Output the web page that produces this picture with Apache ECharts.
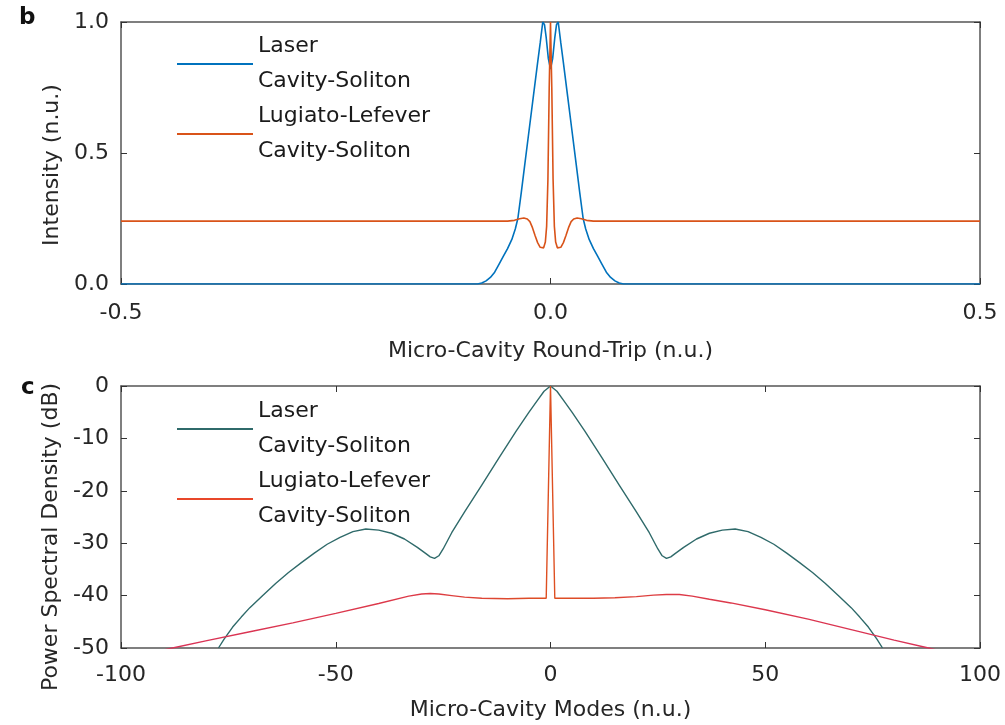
<!DOCTYPE html>
<html>
<head>
<meta charset="utf-8">
<script src="https://cdn.jsdelivr.net/npm/echarts@6/dist/echarts.min.js"></script>
<style>
html,body{margin:0;padding:0;background:#fff;}
#chart{width:1005px;height:725px;}
</style>
</head>
<body>
<div id="chart"></div>
<script>
// ---- Panel b: intensity vs round-trip ----
const roundTripTicks = [-0.5, 0.0, 0.5];
const intensityTicks = [0.0, 0.5, 1.0];
const laserCS_x = [-0.5, -0.085, -0.08, -0.075, -0.07, -0.065, -0.06, -0.055, -0.05, -0.045, -0.041, -0.038, -0.034, -0.03, -0.025, -0.02, -0.015, -0.012, -0.009, -0.007, -0.005, -0.0025, 0,
  0.0025, 0.005, 0.007, 0.009, 0.012, 0.015, 0.02, 0.025, 0.03, 0.034, 0.038, 0.041, 0.045, 0.05, 0.055, 0.06, 0.065, 0.07, 0.075, 0.08, 0.085, 0.5];
const laserCS_y = [0, 0, 0.004, 0.012, 0.025, 0.045, 0.075, 0.105, 0.135, 0.17, 0.21, 0.25, 0.35, 0.455, 0.585, 0.715, 0.845, 0.92, 1.0, 0.99, 0.94, 0.86, 0.82,
  0.86, 0.94, 0.99, 1.0, 0.92, 0.845, 0.715, 0.585, 0.455, 0.35, 0.25, 0.21, 0.17, 0.135, 0.105, 0.075, 0.045, 0.025, 0.012, 0.004, 0, 0];
const llCS_x = [-0.5, -0.05, -0.042, -0.036, -0.031, -0.027, -0.024, -0.021, -0.018, -0.015, -0.012, -0.01, -0.008, -0.006, -0.0045, -0.003, -0.0015, 0,
  0.0015, 0.003, 0.0045, 0.006, 0.008, 0.01, 0.012, 0.015, 0.018, 0.021, 0.024, 0.027, 0.031, 0.036, 0.042, 0.05, 0.5];
const llCS_y = [0.24, 0.24, 0.243, 0.249, 0.252, 0.248, 0.238, 0.215, 0.185, 0.158, 0.14, 0.134, 0.138, 0.16, 0.22, 0.4, 0.75, 1.0,
  0.75, 0.4, 0.22, 0.16, 0.138, 0.134, 0.14, 0.158, 0.185, 0.215, 0.238, 0.248, 0.252, 0.249, 0.243, 0.24, 0.24];

// ---- Panel c: power spectral density vs modes ----
const modeTicks = [-100, -50, 0, 50, 100];
const psdTicks = [-50, -40, -30, -20, -10, 0];
const laserPSD_x = [-77.3, -76, -74, -72, -70, -67, -64, -61, -58, -55, -52, -49, -46, -43, -40, -37, -34, -31, -29, -28, -27, -26, -25, -23, -20, -16, -12, -8, -5, -3, -1.5, 0,
  1.5, 3, 5, 8, 12, 16, 20, 23, 25, 26, 27, 28, 29, 31, 34, 37, 40, 43, 46, 49, 52, 55, 58, 61, 64, 67, 70, 72, 74, 76, 77.3];
const laserPSD_y = [-50, -48.3, -46, -44.1, -42.3, -40, -37.7, -35.6, -33.7, -31.9, -30.2, -28.9, -27.8, -27.3, -27.5, -28.1, -29.2, -30.8, -32, -32.6, -32.9, -32.4, -31.1, -28, -24, -18.9, -13.7, -8.6, -5, -2.7, -1, 0,
  -1, -2.7, -5, -8.6, -13.7, -18.9, -24, -28, -31.1, -32.4, -32.9, -32.6, -32, -30.8, -29.2, -28.1, -27.5, -27.3, -27.8, -28.9, -30.2, -31.9, -33.7, -35.6, -37.7, -40, -42.3, -44.1, -46, -48.3, -50];
const llPSD_x = [-100, -88, -80, -70, -60, -50, -40, -33, -30, -28, -26, -23, -20, -16, -10, -5, -1, 0,
  1, 5, 10, 15, 20, 24, 27, 30, 33, 37, 42, 50, 60, 70, 80, 88, 100];
const llPSD_y = [-52.1, -50, -48.6, -46.9, -45.2, -43.4, -41.5, -40.1, -39.7, -39.6, -39.7, -40, -40.3, -40.5, -40.6, -40.5, -40.5, 0,
  -40.5, -40.5, -40.5, -40.4, -40.2, -39.9, -39.8, -39.8, -40.1, -40.7, -41.4, -42.7, -44.5, -46.5, -48.5, -50, -52.3];

const names = ['Laser\nCavity-Soliton', 'Lugiato-Lefever\nCavity-Soliton'];
const FONT = 'DejaVu Sans';
const FS = 22;
const C_BLUE = '#0072bd', C_ORANGE = '#d95319', C_TEAL = '#2f6a6a', C_RED = '#e0443c';
const AX = '#555';

function pairs(xs, ys){ return xs.map((x,i)=>[x, ys[i]]); }

const chart = echarts.init(document.getElementById('chart'), null, {renderer:'canvas'});

const gridTop = {left:121, right:25, top:22, height:262};
const gridBot = {left:121, right:25, top:386, height:262};

const lineAx = {show:true, onZero:false, lineStyle:{color:AX, width:1.5}};
const tickAx = {show:true, inside:true, length:6, lineStyle:{color:'#333', width:1}};

function xAxisMain(gi, min, max, interval, name, margin, gap, fmt){
  return {type:'value', gridIndex:gi, min, max, interval, position:'bottom',
    name, nameLocation:'middle', nameGap:gap,
    nameTextStyle:{fontFamily:FONT, fontSize:FS, color:'#262626'},
    axisLine:lineAx, axisTick:tickAx,
    axisLabel:{show:true, margin, fontFamily:FONT, fontSize:FS, color:'#262626', formatter:fmt},
    splitLine:{show:false}};
}
function xAxisTop(gi, min, max, interval){
  return {type:'value', gridIndex:gi, min, max, interval, position:'top',
    axisLine:lineAx, axisTick:tickAx, axisLabel:{show:false}, splitLine:{show:false}};
}
function yAxisMain(gi, min, max, interval, name, gap, pad, fmt){
  return {type:'value', gridIndex:gi, min, max, interval, position:'left',
    name, nameLocation:'middle', nameGap:gap,
    nameTextStyle:{fontFamily:FONT, fontSize:FS, color:'#262626', padding:[0, pad, 0, 0]},
    axisLine:lineAx, axisTick:tickAx,
    axisLabel:{show:true, margin:12, fontFamily:FONT, fontSize:FS, color:'#262626', formatter:fmt},
    splitLine:{show:false}};
}
function yAxisRight(gi, min, max, interval){
  return {type:'value', gridIndex:gi, min, max, interval, position:'right',
    axisLine:lineAx, axisTick:tickAx, axisLabel:{show:false}, splitLine:{show:false}};
}

const redGradient = new echarts.graphic.LinearGradient(0, 0, 1, 0, [
  {offset:0, color:'#d8305a'}, {offset:0.35, color:'#dd3a48'},
  {offset:0.5, color:'#de5020'}, {offset:0.65, color:'#dd3a48'}, {offset:1, color:'#d8305a'}]);

const legendText = {fontFamily:FONT, fontSize:FS, color:'#1a1a1a', lineHeight:35};

const option = {
  backgroundColor:'#fff',
  animation:false,
  grid:[gridTop, gridBot],
  xAxis:[
    xAxisMain(0, roundTripTicks[0], roundTripTicks[roundTripTicks.length-1], 0.5, 'Micro-Cavity Round-Trip (n.u.)', 18, 56, v => v.toFixed(1)),
    xAxisTop(0, -0.5, 0.5, 0.5),
    xAxisMain(1, modeTicks[0], modeTicks[modeTicks.length-1], 50, 'Micro-Cavity Modes (n.u.)', 16, 51, v => String(v)),
    xAxisTop(1, -100, 100, 50)
  ],
  yAxis:[
    yAxisMain(0, intensityTicks[0], intensityTicks[intensityTicks.length-1], 0.5, 'Intensity (n.u.)', 56, 24, v => v.toFixed(1)),
    yAxisRight(0, 0, 1, 0.5),
    yAxisMain(1, psdTicks[0], psdTicks[psdTicks.length-1], 10, 'Power Spectral Density (dB)', 54, 40, v => String(v)),
    yAxisRight(1, -50, 0, 10)
  ],
  legend:[
    {left:172, top:24, orient:'vertical', itemGap:0, itemWidth:76, itemHeight:2, icon:'rect',
     textStyle:legendText,
     data:[{name:names[0], itemStyle:{color:C_BLUE}}, {name:names[1], itemStyle:{color:C_ORANGE}}],
     selectedMode:false},
    {left:172, top:389, orient:'vertical', itemGap:0, itemWidth:76, itemHeight:2, icon:'rect',
     textStyle:legendText,
     data:[{name:names[0], itemStyle:{color:C_TEAL}}, {name:names[1], itemStyle:{color:'#e8472a'}}],
     selectedMode:false}
  ],
  series:[
    {type:'line', name:names[0], xAxisIndex:0, yAxisIndex:0, data:pairs(laserCS_x, laserCS_y),
     symbol:'none', smooth:false, lineStyle:{color:C_BLUE, width:1.6}, itemStyle:{color:C_BLUE}, z:3},
    {type:'line', name:names[1], xAxisIndex:0, yAxisIndex:0, data:pairs(llCS_x, llCS_y),
     symbol:'none', smooth:false, lineStyle:{color:C_ORANGE, width:1.6}, itemStyle:{color:C_ORANGE}, z:4},
    {type:'line', name:names[0], xAxisIndex:2, yAxisIndex:2, data:pairs(laserPSD_x, laserPSD_y),
     symbol:'none', smooth:false, lineStyle:{color:C_TEAL, width:1.4}, itemStyle:{color:C_TEAL}, z:3},
    {type:'line', name:names[1], xAxisIndex:2, yAxisIndex:2, data:pairs(llPSD_x, llPSD_y),
     symbol:'none', smooth:false, lineStyle:{color:redGradient, width:1.4}, itemStyle:{color:C_RED}, z:4}
  ],
  graphic:[
    {type:'text', left:19, top:7, style:{text:'b', fontFamily:FONT, fontSize:23, fontWeight:'bold', fill:'#111'}},
    {type:'text', left:21, top:377, style:{text:'c', fontFamily:FONT, fontSize:23, fontWeight:'bold', fill:'#111'}}
  ]
};
chart.setOption(option);
</script>
</body>
</html>
